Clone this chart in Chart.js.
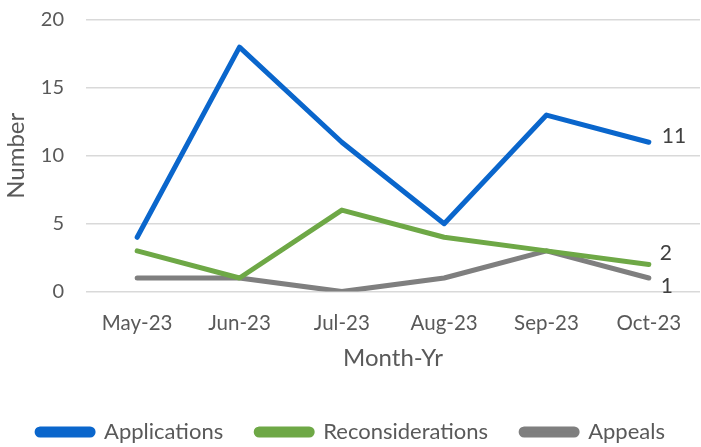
<!DOCTYPE html>
<html>
<head>
<meta charset="utf-8">
<script src="https://cdn.jsdelivr.net/npm/chart.js@4/dist/chart.umd.min.js"></script>
<style>
  html, body { margin: 0; padding: 0; background: #ffffff; }
  #wrap { width: 701px; height: 447px; }
</style>
</head>
<body>
<div id="wrap"><canvas id="c" width="701" height="447"></canvas></div>
<script>
// Monthly counts by request type
const months = ['May-23', 'Jun-23', 'Jul-23', 'Aug-23', 'Sep-23', 'Oct-23'];
const applications = [4, 18, 11, 5, 13, 11];
const reconsiderations = [3, 1, 6, 4, 3, 2];
const appeals = [1, 1, 0, 1, 3, 1];
const yTicks = [0, 5, 10, 15, 20];

const FONT = 'Lato, "Open Sans", sans-serif';
const TEXT = '#595959';

// Writes the value of each series' last point just right of the line end
const endLabels = {
  id: 'endLabels',
  afterDatasetsDraw(chart) {
    const ctx = chart.ctx;
    const dx = [13, 11, 12];
    const dy = [-6, -11, 8];
    ctx.save();
    ctx.font = '21px ' + FONT;
    ctx.fillStyle = '#404040';
    ctx.textAlign = 'left';
    ctx.textBaseline = 'middle';
    chart.data.datasets.forEach((ds, i) => {
      const meta = chart.getDatasetMeta(i);
      const last = meta.data[meta.data.length - 1];
      const v = ds.data[ds.data.length - 1];
      ctx.fillText(String(v), last.x + dx[i], last.y + dy[i]);
    });
    ctx.restore();
  }
};

const series = [
  { label: 'Applications', data: applications, color: '#0A66CC' },
  { label: 'Reconsiderations', data: reconsiderations, color: '#6EA846' },
  { label: 'Appeals', data: appeals, color: '#7F7F7F' }
];

new Chart(document.getElementById('c'), {
  type: 'line',
  data: {
    labels: months,
    datasets: series.map(s => ({
      label: s.label,
      data: s.data,
      borderColor: s.color,
      backgroundColor: s.color,
      borderWidth: 5,
      borderCapStyle: 'round',
      borderJoinStyle: 'round',
      pointRadius: 0,
      pointHoverRadius: 0,
      tension: 0,
      fill: false
    }))
  },
  options: {
    responsive: false,
    animation: false,
    layout: { padding: { top: 0, right: 1, left: 2, bottom: -6 } },
    plugins: {
      tooltip: { enabled: false },
      legend: {
        position: 'bottom',
        labels: {
          font: { family: FONT, size: 22 },
          color: TEXT,
          boxWidth: 56,
          boxHeight: 6,
          useBorderRadius: true,
          borderRadius: 3,
          padding: 33
        }
      }
    },
    scales: {
      x: {
        offset: true,
        grid: { display: false, drawTicks: true, tickLength: 10 },
        border: { display: false },
        ticks: { font: { family: FONT, size: 20.5 }, color: TEXT, padding: 9, maxRotation: 0 },
        title: { display: true, text: 'Month-Yr', font: { family: FONT, size: 24 }, color: TEXT, padding: { top: 0, bottom: 15 } }
      },
      y: {
        min: 0,
        max: 20,
        afterBuildTicks(axis) { axis.ticks = yTicks.map(v => ({ value: v })); },
        grid: { color: '#D9D9D9', lineWidth: 1.5, drawTicks: true, tickLength: 14, tickColor: 'rgba(0,0,0,0)' },
        border: { display: false },
        ticks: { font: { family: FONT, size: 20 }, color: TEXT, padding: 8 },
        title: { display: true, text: 'Number', font: { family: FONT, size: 24 }, color: TEXT, padding: { top: 0, bottom: 2 } }
      }
    }
  },
  plugins: [endLabels]
});
</script>
</body>
</html>
